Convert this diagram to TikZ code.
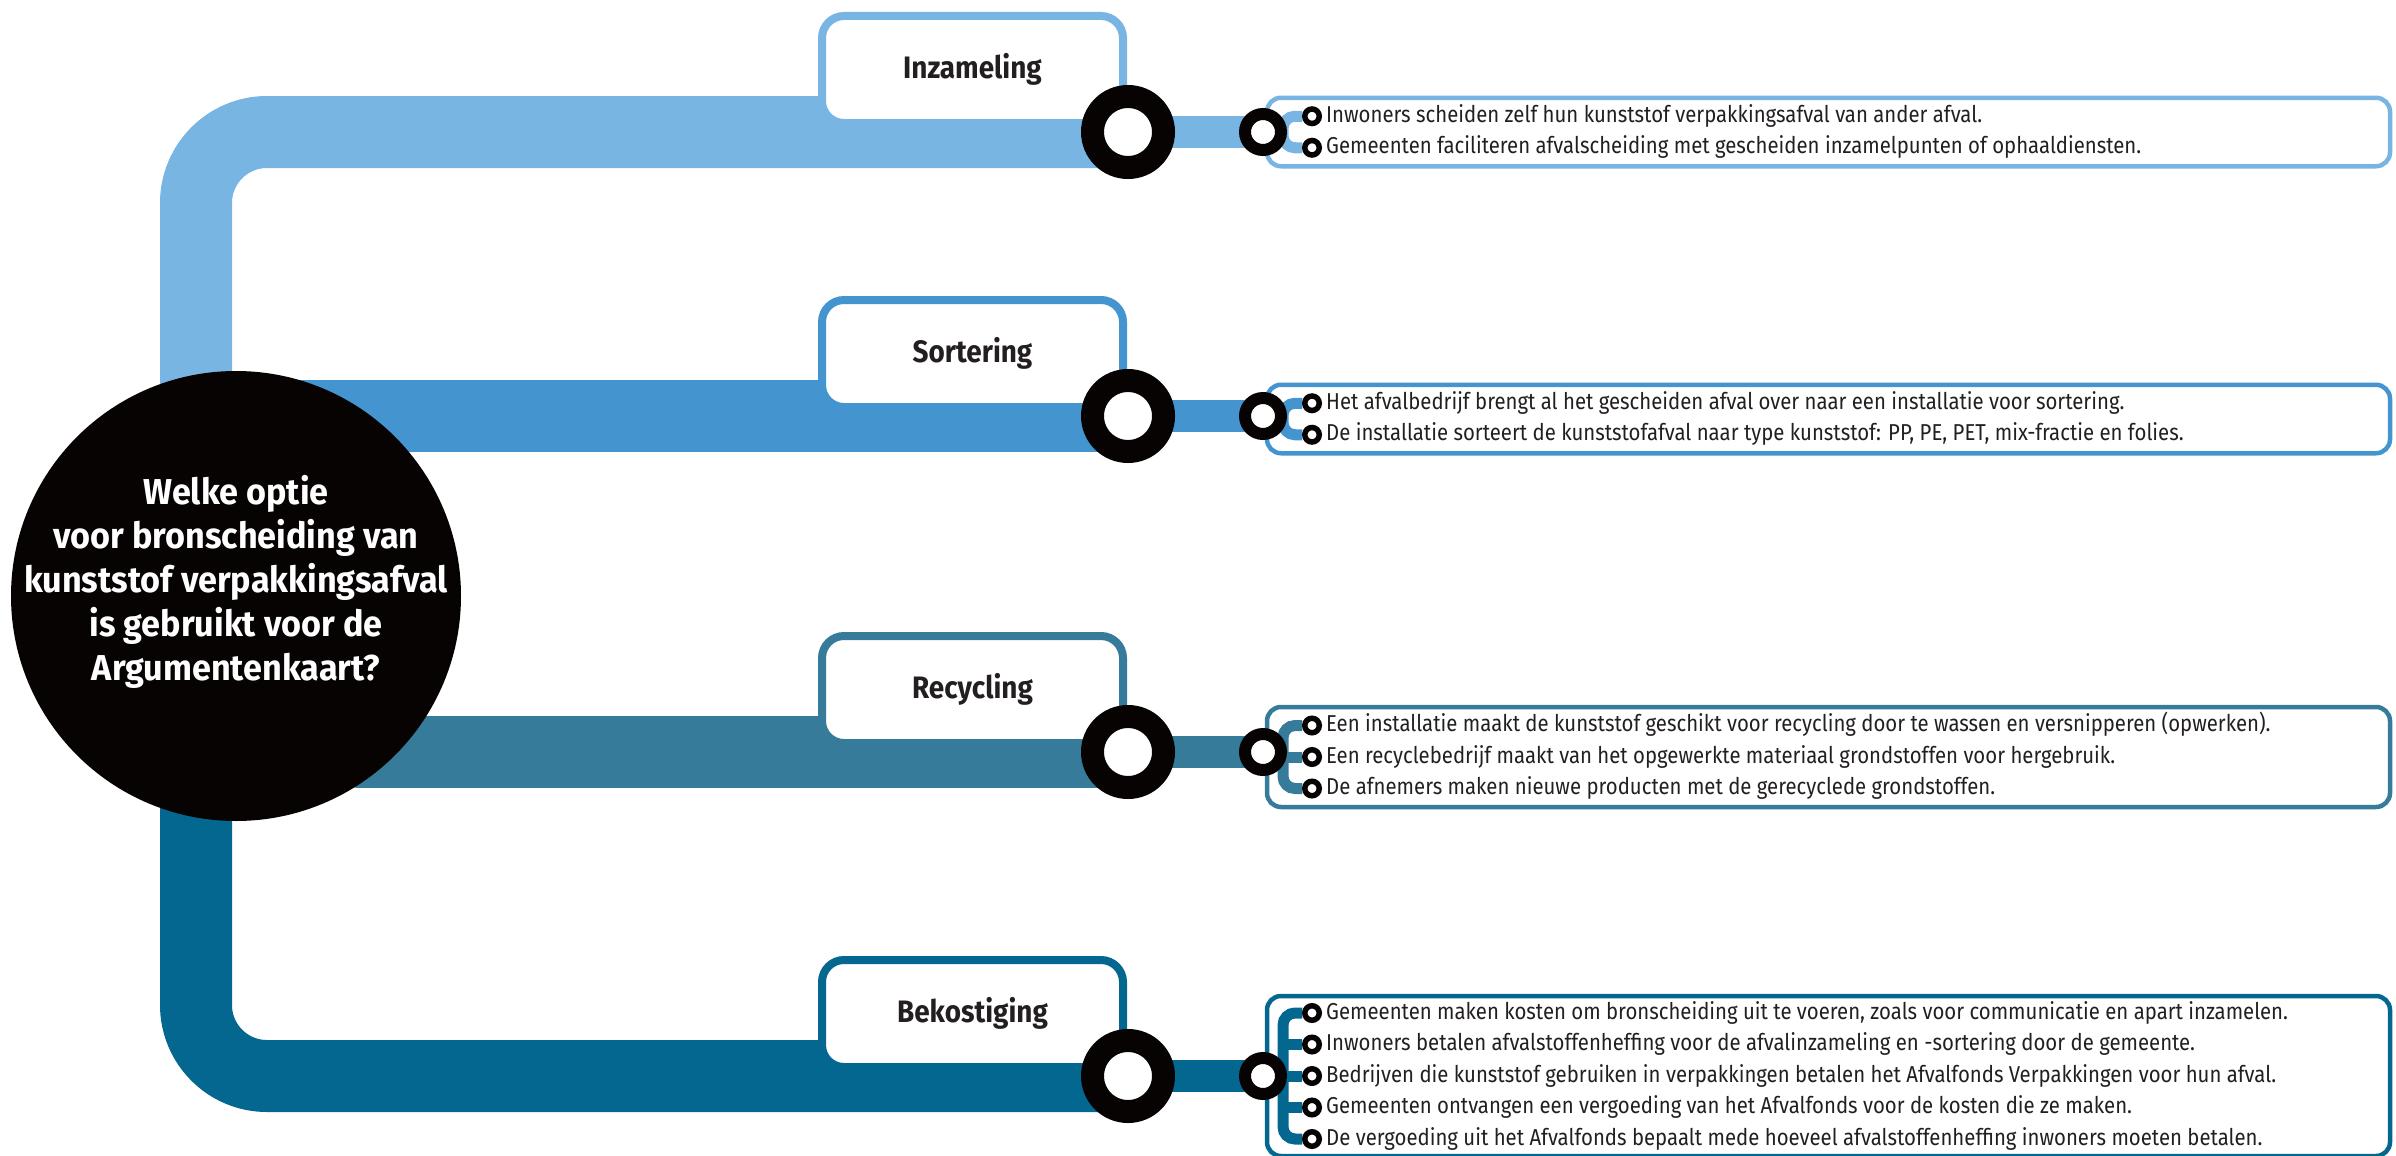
\documentclass[tikz,border=0pt]{standalone}
\usepackage{fontspec}
\usetikzlibrary{positioning}
\usetikzlibrary{backgrounds}
\newfontfamily\koppen[FakeStretch=0.9]{Fira Sans}
\newfontfamily\vraagfont[FakeStretch=0.95]{Fira Sans}
\newfontfamily\punten[FakeStretch=0.885]{Fira Sans}
\definecolor{band1}{HTML}{78B5E2}
\definecolor{band2}{HTML}{4494CF}
\definecolor{band3}{HTML}{367B9A}
\definecolor{band4}{HTML}{036790}
\definecolor{zwart}{HTML}{070303}
\definecolor{inkt}{HTML}{231F20}

\begin{document}
\begin{tikzpicture}[x=1pt,y=-1pt,
  vraag/.style={circle, fill=zwart, minimum size=450pt, inner sep=0},
  vraagtekst/.style={text=white, align=center, inner sep=0, font=\vraagfont\bfseries\fontsize{36}{44}\selectfont},
  fase/.style={draw=#1, line width=8pt, fill=white, rounded corners=22pt, minimum width=301pt, minimum height=107pt, text=inkt, font=\koppen\bfseries\fontsize{31}{36}\selectfont},
  ring/.style={circle, draw=zwart, line width=23pt, fill=white, minimum size=71pt, inner sep=0},
  knoop/.style={circle, draw=zwart, line width=12pt, fill=white, minimum size=36pt, inner sep=0},
  bolletje/.style={circle, draw=zwart, line width=5.5pt, fill=white, minimum size=14.5pt, inner sep=0},
  punt/.style={inner sep=0, text=inkt, text height=15pt, text depth=3pt, font=\punten\fontsize{23}{28}\selectfont},
  kader/.style={draw=#1, line width=4.5pt, rounded corners=14pt, minimum width=1123pt, inner sep=0},
  band/.style={line width=72pt, draw=#1},
  haak/.style={line width=11pt, draw=#1, rounded corners=12pt}]
\useasboundingbox (0,0) rectangle (2396,1156);

\node[vraag] (vraag) at (236,596) {};
\node[vraagtekst] (vraagtekst) at ([yshift=14pt]vraag.center) {Welke optie\\voor bronscheiding van\\kunststof verpakkingsafval\\is gebruikt voor de\\Argumentenkaart?};

\foreach \r/\k/\y/\titel in {1/band1/132/Inzameling, 2/band2/416/Sortering, 3/band3/752/Recycling, 4/band4/1076/Bekostiging} {
  \node[fase=\k] (fase\r) at (972.5,{\y-62.5}) {\titel};
  \node[ring] (ring\r) at (1128,\y) {};
  \node[knoop, right=64pt of ring\r] (knoop\r) {};
}

\foreach \tekst [count=\i] in {{Inwoners scheiden zelf hun kunststof verpakkingsafval van ander afval.},
  {Gemeenten faciliteren afvalscheiding met gescheiden inzamelpunten of ophaaldiensten.}} {
  \node[bolletje] (b1-\i) at (1312,{132+31.5*(\i-1.5)}) {};
  \node[punt, right=4pt of b1-\i] (t1-\i) {\tekst};
}
\foreach \tekst [count=\i] in {{Het afvalbedrijf brengt al het gescheiden afval over naar een installatie voor sortering.},
  {De installatie sorteert de kunststofafval naar type kunststof: PP, PE, PET, mix-fractie en folies.}} {
  \node[bolletje] (b2-\i) at (1312,{419+31.5*(\i-1.5)}) {};
  \node[punt, right=4pt of b2-\i] (t2-\i) {\tekst};
}
\foreach \tekst [count=\i] in {{Een installatie maakt de kunststof geschikt voor recycling door te wassen en versnipperen (opwerken).},
  {Een recyclebedrijf maakt van het opgewerkte materiaal grondstoffen voor hergebruik.},
  {De afnemers maken nieuwe producten met de gerecyclede grondstoffen.}} {
  \node[bolletje] (b3-\i) at (1312,{757+31.5*(\i-2)}) {};
  \node[punt, right=4pt of b3-\i] (t3-\i) {\tekst};
}
\foreach \tekst [count=\i] in {{Gemeenten maken kosten om bronscheiding uit te voeren, zoals voor communicatie en apart inzamelen.},
  {Inwoners betalen afvalstoffenheffing voor de afvalinzameling en -sortering door de gemeente.},
  {Bedrijven die kunststof gebruiken in verpakkingen betalen het Afvalfonds Verpakkingen voor hun afval.},
  {Gemeenten ontvangen een vergoeding van het Afvalfonds voor de kosten die ze maken.},
  {De vergoeding uit het Afvalfonds bepaalt mede hoeveel afvalstoffenheffing inwoners moeten betalen.}} {
  \node[bolletje] (b4-\i) at (1312,{1076+31.5*(\i-3)}) {};
  \node[punt, right=4pt of b4-\i] (t4-\i) {\tekst};
}

\begin{scope}[on background layer]
\draw[band=band1, rounded corners=71pt] ([xshift=-40pt]vraag.center) |- (ring1.center);
\draw[band=band4, rounded corners=71pt] ([xshift=-40pt]vraag.center) |- (ring4.center);
\draw[band=band2] (vraag.center |- ring2.center) -- (ring2.center);
\draw[band=band3, line cap=round] ([xshift=124pt]vraag.center |- ring3.center) -- (ring3.center);
\foreach \r/\k in {1/band1, 2/band2, 3/band3, 4/band4}
  \draw[line width=32pt, draw=\k] (ring\r.center) -- (knoop\r.center);

\node[kader=band1, minimum height=68.5pt] (kader1) at (1828.5,132) {};
\node[kader=band2, minimum height=68.5pt] (kader2) at (1828.5,419) {};
\node[kader=band3, minimum height=100pt] (kader3) at (1828.5,757) {};
\node[kader=band4, minimum height=160pt] (kader4) at (1828.5,1076) {};

\foreach \r/\k/\n in {1/band1/2, 2/band2/2, 3/band3/3, 4/band4/5} {
  \coordinate (stam\r) at (1283,0 |- knoop\r.center);
  \draw[haak=\k] (b\r-1.west) -| (stam\r) |- (b\r-\n.west);
  \draw[haak=\k] (knoop\r.center) -- (stam\r);
}
\foreach \i in {2,...,4}
  \draw[haak=band4] (b4-\i.west) -- (stam4 |- b4-\i.west);
\draw[haak=band3] (b3-2.west) -- (stam3 |- b3-2.west);
\end{scope}
\end{tikzpicture}
\end{document}
